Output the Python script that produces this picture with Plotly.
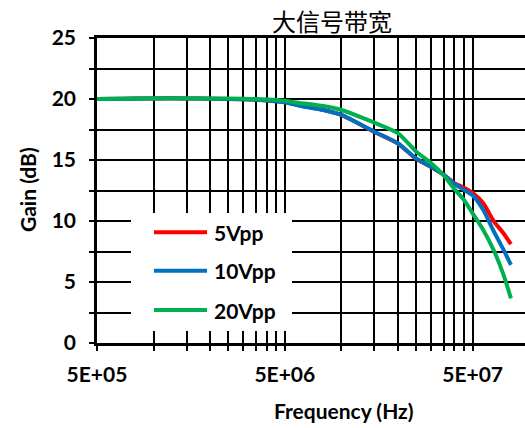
import math
import plotly.graph_objects as go

# ---- data ----
freq_hz = [5e5, 7e5, 1e6, 1.5e6, 2e6, 3e6, 4e6, 5e6, 6e6, 8e6, 1e7, 1.5e7, 2e7,
           2.5e7, 3e7, 3.5e7, 4e7, 4.5e7, 5e7, 5.7e7, 6.5e7, 7.3e7, 8e7]
gain_5vpp = [20.0, 20.03, 20.05, 20.05, 20.02, 19.97, 19.88, 19.73, 19.5, 19.12, 18.7,
             17.3, 16.35, 15.1, 14.45, 13.8, 13.1, 12.73, 12.3, 11.45, 9.95, 9.0, 8.1]
gain_10vpp = [20.0, 20.03, 20.05, 20.05, 20.02, 19.97, 19.88, 19.73, 19.45, 19.1, 18.7,
              17.32, 16.37, 15.14, 14.45, 13.8, 13.05, 12.55, 12.1, 10.9, 9.12, 7.65, 6.4]
gain_20vpp = [20.0, 20.03, 20.05, 20.05, 20.05, 20.02, 19.96, 19.86, 19.68, 19.42, 19.1,
              18.06, 17.2, 15.7, 14.75, 13.75, 12.62, 11.72, 10.63, 9.26, 7.55, 5.6, 3.66]
series_names = ["5Vpp", "10Vpp", "20Vpp"]
series_values = [gain_5vpp, gain_10vpp, gain_20vpp]
series_colors = ["#FF0000", "#0070C0", "#00B050"]
x_tick_vals = [5e5, 5e6, 5e7]
x_tick_text = ["5E+05", "5E+06", "5E+07"]
y_tick_vals = [0, 5, 10, 15, 20, 25]
title_text = "大信号带宽"
x_title = "Frequency (Hz)"
y_title = "Gain (dB)"

# ---- layout geometry (pixels) ----
W, H = 525, 428
L, R, T, B = 97, 0, 38, 85
PW, PH = W - L - R, H - T - B
px_per_decade = 187.8


def px(xp):
    return (xp - L) / PW


def py(yp):
    return (H - B - yp) / PH


FONT = "Lato, 'Open Sans', sans-serif"
GRID = "#000000"

fig = go.Figure()
for name, vals, col in zip(series_names, series_values, series_colors):
    fig.add_trace(go.Scatter(x=freq_hz, y=vals, name=name, mode="lines",
                             line=dict(color=col, width=4, shape="spline", smoothing=0.6),
                             showlegend=False))

minor_x = [5e5 * k for k in range(2, 10)] + [5e6 * k for k in range(2, 10)]
x0 = math.log10(5e5)

fig.update_layout(
    width=W, height=H,
    margin=dict(l=L, r=R, t=T, b=B, pad=0),
    paper_bgcolor="white", plot_bgcolor="white",
    font=dict(family=FONT, color="black"),
    xaxis=dict(type="log", range=[x0, x0 + PW / px_per_decade],
               tickmode="array", tickvals=x_tick_vals, ticktext=x_tick_text,
               tickfont=dict(size=21, family=FONT, weight="bold"),
               showgrid=True, gridcolor=GRID, gridwidth=1.5,
               showline=True, linecolor="black", linewidth=2.5, mirror=True,
               ticks="outside", ticklen=5, tickwidth=1.5, tickcolor="black",
               ticklabelstandoff=6,
               minor=dict(tickmode="array", tickvals=minor_x, showgrid=True,
                          gridcolor=GRID, gridwidth=1.5,
                          ticks="outside", ticklen=5, tickwidth=1.5, tickcolor="black"),
               zeroline=False),
    yaxis=dict(range=[0, 25], tickmode="array", tickvals=y_tick_vals,
               tickfont=dict(size=21, family=FONT, weight="bold"),
               showgrid=True, gridcolor=GRID, gridwidth=1.5,
               showline=True, linecolor="black", linewidth=2.5, mirror=False,
               ticks="outside", ticklen=5, tickwidth=1.5, tickcolor="black",
               ticklabelstandoff=9,
               minor=dict(dtick=2.5, showgrid=True, gridcolor=GRID, gridwidth=1.5,
                          ticks="outside", ticklen=5, tickwidth=1.5, tickcolor="black"),
               zeroline=False),
)

# manual legend box (white, covers gridlines)
fig.add_shape(type="rect", xref="paper", yref="paper",
              x0=px(131), x1=px(292), y0=py(331), y1=py(213),
              fillcolor="white", line=dict(width=0), layer="above")
row_y = [232.3, 270.7, 310]
for name, col, yy in zip(series_names, series_colors, row_y):
    fig.add_shape(type="line", xref="paper", yref="paper",
                  x0=px(154), x1=px(207), y0=py(yy), y1=py(yy),
                  line=dict(color=col, width=4), layer="above")
    fig.add_annotation(xref="paper", yref="paper", x=px(212), y=py(yy),
                       text=name, showarrow=False, xanchor="left", yanchor="middle",
                       font=dict(size=21, family=FONT, weight="bold", color="black"))

fig.add_annotation(xref="paper", yref="paper", x=px(332), y=py(20), text=title_text,
                   showarrow=False, xanchor="center", yanchor="middle",
                   font=dict(size=24, family="Noto Sans CJK SC", color="black"))
fig.add_annotation(xref="paper", yref="paper", x=px(344), y=py(410), text=x_title,
                   showarrow=False, xanchor="center", yanchor="middle",
                   font=dict(size=21, family=FONT, weight="bold", color="black"))
fig.add_annotation(xref="paper", yref="paper", x=px(27), y=py(190), text=y_title,
                   showarrow=False, xanchor="center", yanchor="middle", textangle=-90,
                   font=dict(size=21, family=FONT, weight="bold", color="black"))

fig.write_html("out.html")
